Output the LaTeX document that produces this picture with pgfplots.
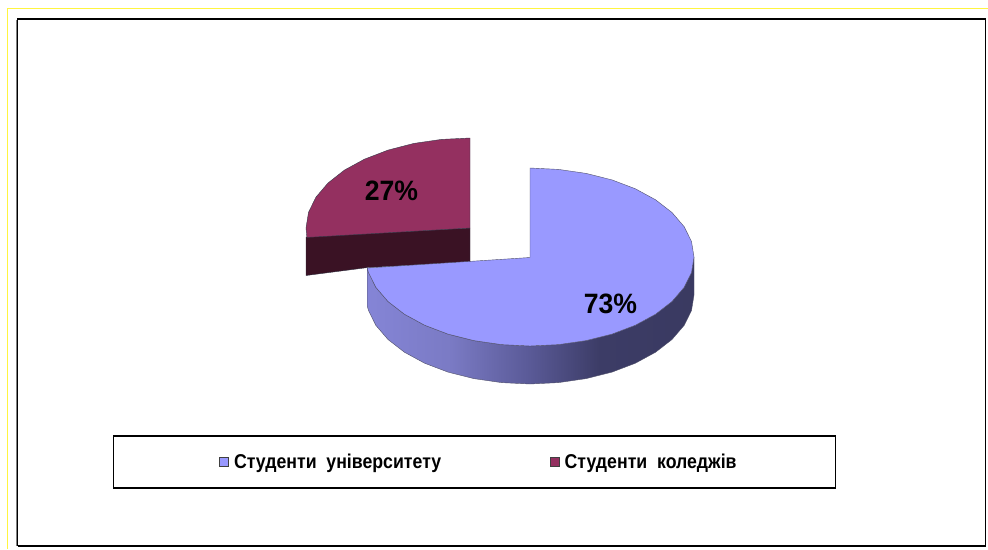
\documentclass[border=0pt]{standalone}
\usepackage{fontspec}
\setmainfont{Liberation Sans}
\newfontfamily\narrowbold[FakeStretch=0.885]{Liberation Sans Bold}
\newfontfamily\labelbold[FakeStretch=0.95]{Liberation Sans Bold}
\usepackage{pgfplots}
\pgfplotsset{compat=1.18}
\definecolor{mainTop}{HTML}{9999FF}
\definecolor{redTop}{HTML}{943060}
\definecolor{redSide}{HTML}{3A1224}
\definecolor{edge}{HTML}{50506A}
\pgfdeclarehorizontalshading{mainside}{100bp}{
 rgb(0bp)=(0.52,0.52,0.84);
 rgb(25bp)=(0.52,0.52,0.84);
 rgb(37.7bp)=(0.48,0.48,0.77);
 rgb(50bp)=(0.35,0.35,0.59);
 rgb(60.6bp)=(0.235,0.235,0.40);
 rgb(75bp)=(0.225,0.225,0.38);
 rgb(100bp)=(0.225,0.225,0.38)}
\begin{document}
\begin{tikzpicture}
\begin{axis}[
  scale only axis, width=988pt, height=549pt,
  xmin=0, xmax=988, ymin=0, ymax=549, y dir=reverse,
  hide axis, clip=true,
  legend columns=2,
  legend style={at={(0.4803,0.1585)}, anchor=center, draw=black, line width=1.6pt,
    fill=white, inner xsep=97pt, inner ysep=16pt,
    font=\narrowbold\fontsize{20}{22}\selectfont,
    /tikz/every even column/.append style={column sep=106.5pt}},
]
% page background: fixes the picture's extent
\addplot[fill=white, draw=none, forget plot] coordinates {(0,0) (988,0) (988,549) (0,549) (0,0)};
% outer yellow border
\addplot[draw=yellow!75!white, line width=1pt, forget plot] coordinates {(7.5,549) (7.5,8) (988,8)};
% black frame with grey left shadow
\addplot[draw=gray, line width=1pt, forget plot] coordinates {(16,546) (16,20)};
\addplot[draw=black, line width=1.8pt, forget plot] coordinates {(17.5,546) (17.5,19) (985.5,19) (985.5,546) (17.5,546)};
% college slice: front wall
\addplot[fill=redSide, draw=edge!60!black, line width=0.4pt, forget plot] coordinates {
 (306,237) (470,228) (470,262) (368,267.5) (306,275.5) (306,237)};
% college slice: top
\addplot[fill=redTop, draw=edge!70!black, line width=0.4pt, forget plot] coordinates {
 (470,228) (470,138) (441.5,139.4) (413.9,143.4) (388,150.1) (364.6,159.1) (344.4,170.1)
 (328,183) (315.9,197.2) (308.5,212.4) (306,228) (306.9,237.4) (470,228)};
% university slice: outer wall
\addplot[shade, shading=mainside, draw=edge, line width=0.4pt, forget plot] coordinates {
 (694,257) (691.5,272.5) (684.1,287.4) (672,301.5) (655.6,314.2) (635.4,325.2) (612,334.1)
 (586.1,340.6) (558.5,344.6) (530,346) (501.5,344.6) (473.9,340.6) (448,334.1) (424.6,325.2)
 (404.4,314.2) (388,301.5) (375.9,287.4) (368.5,272.5) (367.2,268)
 (367.2,306) (368.5,310.5) (375.9,325.4) (388,339.5) (404.4,352.2) (424.6,363.2) (448,372.1)
 (473.9,378.6) (501.5,382.6) (530,384) (558.5,382.6) (586.1,378.6) (612,372.1) (635.4,363.2)
 (655.6,352.2) (672,339.5) (684.1,325.4) (691.5,310.5) (694,295) (694,257)};
% university slice: top
\addplot[fill=mainTop, draw=edge, line width=0.4pt, forget plot] coordinates {
 (530,257.5) (530,168) (558.5,169.4) (586.1,173.4) (612,179.9) (635.4,188.8) (655.6,199.8)
 (672,212.5) (684.1,226.6) (691.5,241.5) (694,257) (691.5,272.5) (684.1,287.4) (672,301.5)
 (655.6,314.2) (635.4,325.2) (612,334.1) (586.1,340.6) (558.5,344.6) (530,346) (501.5,344.6)
 (473.9,340.6) (448,334.1) (424.6,325.2) (404.4,314.2) (388,301.5) (375.9,287.4) (368.5,272.5)
 (367.2,268) (530,257.5)};
\node[font=\labelbold\fontsize{28}{30}\selectfont, inner sep=0pt] at (axis cs:391.5,190.5) {27\%};
\node[font=\labelbold\fontsize{28}{30}\selectfont, inner sep=0pt] at (axis cs:610.5,303.5) {73\%};
\addlegendimage{legend image code/.code={\path[draw=none,fill=none] (-9pt,0pt) -- (0pt,0pt); \draw[draw=black!75, line width=1pt, fill=mainTop] (0pt,-4.5pt) rectangle (9pt,4.5pt);}}
\addlegendentry{\hspace{3pt}Студенти\ \ університету}
\addlegendimage{legend image code/.code={\draw[draw=black!75, line width=1pt, fill=redTop] (0pt,-4.5pt) rectangle (9pt,4.5pt);}}
\addlegendentry{\hspace{3pt}Студенти\ \ коледжів}
\end{axis}
\end{tikzpicture}
\end{document}
